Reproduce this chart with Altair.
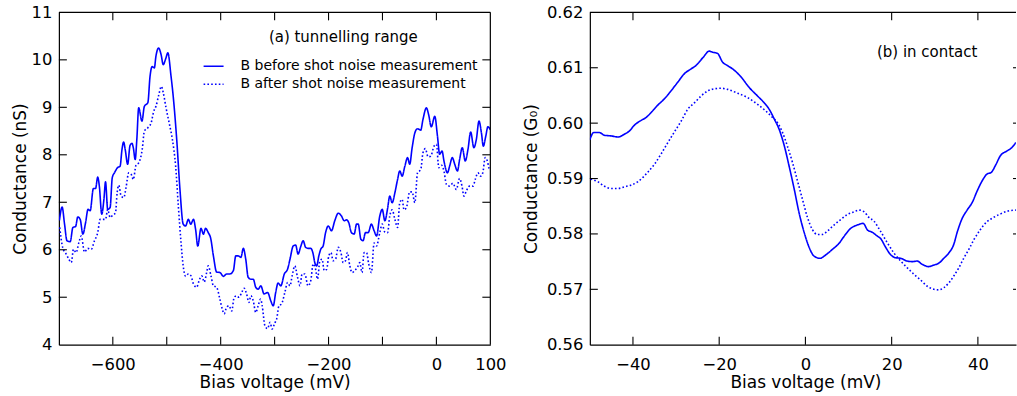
import altair as alt
import pandas as pd

SERIES = ["B before shot noise measurement", "B after shot noise measurement"]
BLUE = "#0000ff"
FONT = "DejaVu Sans"

# ---------------- panel (a): tunnelling range ----------------
a_before_v = [-699, -694, -689.5, -685, -679, -674, -669, -665, -660.5, -655.5, -650.5, -646, -642,
              -636, -632, -628, -625, -620.5, -616.5, -613.5, -609.5, -605, -601, -597, -591, -586.5,
              -583, -580, -577, -572.5, -568, -564.5, -562, -558.5, -555.5, -552, -546, -541.5, -535,
              -531, -527, -523, -520, -515, -510.5, -506.5, -501.5, -498, -492, -488, -481.5, -475.5,
              -469.5, -465, -460, -455.5, -450.5, -446.5, -442.5, -436.5, -432, -428, -423, -418.5,
              -413.5, -407.5, -401.5, -395, -389, -383, -376.5, -372, -367.5, -362.5, -358, -353.5,
              -349, -344, -339.5, -335, -330.5, -325.5, -319.5, -313, -307, -302.5, -298, -293.5,
              -288.5, -282, -276, -271.5, -265.5, -261, -256.5, -251.5, -247, -242.5, -238, -233,
              -228.5, -225.5, -222, -218, -214.5, -210, -205.5, -200.5, -194.5, -188.5, -182, -176,
              -171, -166.5, -162.5, -157.5, -152.5, -148, -145, -140, -136, -131.5, -126.5, -120.5,
              -115.5, -111, -105, -100.5, -95.5, -90.5, -86.5, -82, -77, -72, -68, -63.5, -58.5,
              -53.5, -49.5, -45, -40, -35, -29, -25, -18.5, -14.5, -9.5, -3, 2, 6, 10.5, 14, 20.5,
              24.5, 29.5, 34, 39, 43, 48, 53.5, 58.5, 63.5, 69.5, 74, 79, 83.5, 87, 91.5, 95.5, 100]
a_before_g = [6.62, 6.90, 6.54, 6.19, 6.17, 6.47, 6.49, 6.69, 6.64, 6.33, 6.57, 6.85, 6.82,
              7.29, 7.29, 7.53, 7.34, 6.75, 7.06, 7.43, 6.85, 6.89, 7.52, 7.62, 7.73, 7.76,
              8.11, 8.27, 8.11, 7.80, 8.20, 8.24, 8.15, 7.90, 8.32, 8.99, 8.71, 9.02, 9.10,
              9.65, 9.86, 9.83, 10.08, 10.25, 10.11, 9.90, 10.04, 10.15, 9.65, 9.23, 8.32, 7.27,
              6.54, 6.50, 6.64, 6.54, 6.64, 6.43, 6.08, 6.45, 6.33, 6.45, 6.36, 6.24,
              5.87, 5.53, 5.52, 5.44, 5.49, 5.49, 5.56, 5.87, 5.87, 5.84, 6.03, 5.80,
              5.42, 5.38, 5.38, 5.21, 5.17, 5.24, 5.07, 5.10, 4.92, 4.82, 5.10, 5.30,
              5.24, 5.49, 5.59, 5.80, 6.08, 6.10, 5.91, 6.07, 6.19, 6.05, 6.03, 6.03,
              5.91, 5.73, 5.66, 5.87, 6.01, 6.08, 6.36, 6.50, 6.40, 6.61, 6.77, 6.71,
              6.61, 6.63, 6.57, 6.36, 6.33, 6.54, 6.54, 6.22, 6.19, 6.36, 6.36, 6.54,
              6.40, 6.29, 6.71, 6.85, 6.61, 6.87, 7.13, 6.99, 7.20, 7.48, 7.66, 7.55, 7.76,
              7.94, 7.80, 8.15, 8.46, 8.55, 8.52, 8.74, 8.99, 8.85, 8.59, 8.81, 8.39, 8.01, 8.08, 7.87, 7.62,
              7.76, 7.94, 7.80, 7.66, 7.90, 8.15, 7.87, 8.11, 8.48, 8.15, 8.32, 8.71, 8.46, 8.18, 8.39, 8.59, 8.53]

a_after_v = [-698.5, -693, -686.5, -681.5, -677, -673, -668, -663, -658.5, -652.5, -646.5, -640, -634,
             -628, -623.5, -618.5, -613.5, -609.5, -605, -600, -595, -592, -589, -584.5, -579.5,
             -575.5, -570.5, -566, -562, -557, -552, -545.5, -541.5, -535, -529, -524, -520, -515,
             -510, -506.5, -501.5, -495.5, -489.5, -483.5, -478.5, -473.5, -469.5, -465, -460, -455,
             -450.5, -444.5, -440, -435, -430.5, -426, -423, -418, -413.5, -407.5, -401.5, -397,
             -393.5, -389, -384.5, -379.5, -375, -370.5, -366, -361, -356.5, -352, -347.5, -344,
             -339.5, -335, -330.5, -326, -323, -318, -313, -308.5, -304.5, -300, -296, -292, -287,
             -281, -276, -271.5, -267.5, -262.5, -257.5, -253, -249, -244, -238, -233, -228.5, -224,
             -220.5, -216, -212, -208, -203.5, -199.5, -195.5, -191.5, -187, -182, -177, -173,
             -168.5, -165, -160.5, -156.5, -151.5, -146.5, -142, -138, -134, -129.5, -125.5, -120.5,
             -115.5, -111, -105, -100.5, -96, -90.5, -86.5, -82, -77, -72, -68, -63.5, -60, -55.5,
             -49.5, -45, -40, -35, -29, -25, -20.5, -15.5, -10.5, -4.5, 0, 4.5, 9.5, 14, 18.5,
             24.5, 30.5, 37, 43, 47.5, 51, 55.5, 61.5, 68, 72, 77, 82, 86, 90.5, 94.5, 98.5, 100]
a_after_g = [6.47, 6.05, 5.91, 5.80, 5.73, 6.01, 5.94, 6.15, 6.29, 5.95, 6.03, 6.01, 6.19,
             6.36, 6.64, 6.64, 6.64, 6.85, 6.68, 6.73, 6.78, 7.20, 7.36, 7.13, 7.10,
             7.31, 7.62, 7.59, 7.48, 7.78, 7.83, 8.11, 8.50, 8.57, 8.67, 8.92, 9.02, 9.25,
             9.44, 9.31, 9.00, 8.67, 8.32, 7.76, 6.92, 6.15, 5.66, 5.44, 5.49, 5.45,
             5.28, 5.21, 5.35, 5.45, 5.32, 5.52, 5.66, 5.45, 5.24, 5.21, 4.96, 4.75,
             4.65, 4.79, 4.82, 4.71, 5.00, 5.03, 5.00, 5.10, 5.19, 5.07, 4.89, 5.03,
             4.92, 4.68, 4.82, 4.96, 4.82, 4.40, 4.34, 4.47, 4.33, 4.45, 4.55, 4.82, 4.86,
             5.10, 5.31, 5.24, 5.45, 5.66, 5.42, 5.24, 5.49, 5.49, 5.24, 5.35, 5.70, 5.59,
             5.38, 5.77, 5.80, 5.56, 5.59, 5.87, 5.94, 5.77, 5.80, 6.05, 5.94, 5.73,
             5.77, 5.94, 5.66, 5.52, 5.56, 5.63, 5.73, 5.52, 5.94, 5.94, 5.70, 5.52,
             6.14, 6.08, 6.36, 6.54, 6.38, 6.36, 6.71, 6.84, 6.64, 6.47, 6.99, 7.06, 6.84, 6.89,
             7.22, 7.22, 6.99, 7.62, 7.69, 8.04, 8.13, 7.96, 7.97, 8.18, 8.22, 7.73, 7.78, 7.66, 7.38,
             7.34, 7.40, 7.27, 7.50, 7.34, 7.13, 7.24, 7.34, 7.34, 7.48, 7.62, 7.55, 7.62, 7.94, 7.87, 7.69, 7.70]

# ---------------- panel (b): in contact ----------------
b_before_v = [-50, -49.1, -47.8, -46.6, -45.1, -43.5, -42, -40.8, -39.7, -38.1, -37, -35.8, -34.3,
              -32.7, -31.2, -29.6, -28.1, -26.5, -25.4, -23.8, -22.3, -21.5, -20.4, -19.2, -18.1,
              -16.9, -15, -13, -11.1, -9.6, -8.4, -7.2, -6.1, -4.9, -3.8, -2.6, -1.5, -0.3, 0.85,
              2.0, 3.4, 4.7, 6.25, 7.8, 9.0, 10.5, 12.0, 13.4, 14.4, 15.5, 16.7, 17.4, 18.6, 19.7,
              20.9, 22.1, 23.6, 24.8, 25.9, 27.1, 28.6, 29.8, 30.9, 32.1, 33.3, 34.4, 35.2, 36.3,
              37.5, 38.7, 39.8, 41.0, 42.1, 43.1, 44.1, 45.2, 46.8, 47.9, 48.8]
b_before_g = [0.5970, 0.5983, 0.5983, 0.5978, 0.5977, 0.5975, 0.5980, 0.5986, 0.5996, 0.6005, 0.6010, 0.6019, 0.6032,
              0.6044, 0.6058, 0.6074, 0.6089, 0.6098, 0.6104, 0.6118, 0.6130, 0.6128, 0.6126, 0.6110, 0.6104,
              0.6098, 0.6084, 0.6064, 0.6049, 0.6037, 0.6025, 0.6007, 0.5989, 0.5959, 0.5923, 0.5881, 0.5839, 0.5803, 0.5776,
              0.5760, 0.5756, 0.5762, 0.5772, 0.5783, 0.5796, 0.5810, 0.5816, 0.5819, 0.5807, 0.5803, 0.5796, 0.5792, 0.5776, 0.5763,
              0.5757, 0.5756, 0.5751, 0.5750, 0.5751, 0.5745, 0.5741, 0.5744, 0.5747, 0.5756, 0.5766, 0.5781, 0.5803, 0.5827,
              0.5843, 0.5857, 0.5877, 0.5896, 0.5908, 0.5911, 0.5924, 0.5941, 0.5950, 0.5956, 0.5965]

b_after_v = [-49.8, -48.1, -46.6, -45.1, -43.5, -42, -40.5, -38.9, -37.7, -36.6, -35, -33.5, -31.9,
             -30.4, -28.8, -27.3, -25.7, -24.2, -22.7, -21.1, -19.6, -18.1, -15.7, -13.4, -11.1,
             -9.2, -7.6, -6.5, -5.3, -4.2, -3.0, -1.85, -0.7, 0.46, 1.6, 2.8, 3.9, 5.1, 6.6, 8.2,
             9.7, 11.3, 12.4, 13.6, 14.7, 15.9, 17.4, 19.0, 20.5, 22.1, 23.6, 25.2, 26.7, 28.2,
             29.8, 30.9, 32.1, 33.3, 34.4, 35.6, 36.7, 37.9, 39.1, 40.6, 42.1, 43.7, 45.2, 46.8, 48.8]
b_after_g = [0.5899, 0.5894, 0.5886, 0.5882, 0.5882, 0.5885, 0.5888, 0.5894, 0.5902, 0.5911, 0.5926, 0.5944, 0.5965,
             0.5984, 0.6004, 0.6025, 0.6037, 0.6049, 0.6058, 0.6062, 0.6063, 0.6061, 0.6054, 0.6046, 0.6034,
             0.6022, 0.6010, 0.6001, 0.5983, 0.5959, 0.5929, 0.5896, 0.5863, 0.5830, 0.5808, 0.5799, 0.5799, 0.5805, 0.5816, 0.5826,
             0.5835, 0.5840, 0.5843, 0.5840, 0.5830, 0.5823, 0.5805, 0.5784, 0.5766, 0.5751, 0.5739, 0.5727, 0.5717, 0.5706,
             0.5700, 0.5699, 0.5703, 0.5712, 0.5724, 0.5739, 0.5756, 0.5772, 0.5790, 0.5808, 0.5822, 0.5830, 0.5836, 0.5841, 0.5843]

# axes / tick values
A_XDOM = [-700, 100]
A_YDOM = [4, 11]
A_XLABELS = [-600, -400, -200, 0, 100]
A_XTICKS = [-600, -500, -400, -300, -200, -100, 0]
A_YLABELS = [4, 5, 6, 7, 8, 9, 10, 11]
A_YTICKS = [5, 6, 7, 8, 9, 10]

B_XDOM = [-50, 48.84]
B_YDOM = [0.56, 0.62]
B_XLABELS = [-40, -20, 0, 20, 40]
B_XTICKS = [-40, -20, 0, 20, 40]
B_YLABELS = [0.56, 0.57, 0.58, 0.59, 0.60, 0.61, 0.62]
B_YTICKS = [0.57, 0.58, 0.59, 0.60, 0.61]

A_NOTE = ["(a) tunnelling range"]
A_NOTE_V = [-310.6]
A_NOTE_G = [10.485]
B_NOTE = ["(b) in contact"]
B_NOTE_V = [16.6]
B_NOTE_G = [0.61278]

XTITLE = "Bias voltage (mV)"


def lines_df(bv, bg, av, ag):
    d1 = pd.DataFrame({"v": bv, "g": bg, "series": SERIES[0]})
    d2 = pd.DataFrame({"v": av, "g": ag, "series": SERIES[1]})
    return pd.concat([d1, d2], ignore_index=True)


ONE = pd.DataFrame({"k": [0]})
TICK = 8  # inward tick length, pixels


def frame_rule(**enc):
    return alt.Chart(ONE).mark_rule(color="black", strokeWidth=1.1).encode(**enc)


def inward_ticks(xdom, ydom, W, H, xticks, yticks, right_len):
    """Short inward tick marks on all four sides (frame decoration, matplotlib style)."""
    out = []
    for t in xticks:
        px = (t - xdom[0]) / (xdom[1] - xdom[0]) * W
        out.append(frame_rule(x=alt.value(px), y=alt.value(H), y2=alt.value(H - TICK)))
        out.append(frame_rule(x=alt.value(px), y=alt.value(0), y2=alt.value(TICK)))
    for t in yticks:
        py = H - (t - ydom[0]) / (ydom[1] - ydom[0]) * H
        out.append(frame_rule(y=alt.value(py), x=alt.value(0), x2=alt.value(TICK)))
        out.append(frame_rule(y=alt.value(py), x=alt.value(W), x2=alt.value(W - right_len)))
    return out


def panel(df, note, xdom, ydom, W, H, xlabels, xticks, ylabels, yticks, yfmt, ytitle,
          ytitle_x, xtitle_x, leg_x, leg_y, right_spine, right_tick):
    xs = alt.Scale(domain=xdom, nice=False, zero=False)
    ys = alt.Scale(domain=ydom, nice=False, zero=False)

    x_main = alt.Axis(orient="bottom", values=xlabels, ticks=False, tickSize=0, domain=True,
                      domainColor="black", domainWidth=1.2, labelFont=FONT, labelFontSize=16.4,
                      labelColor="black", labelPadding=11.6, labelFlush=False, labelOverlap=False,
                      labelExpr="replace(datum.label, '-', '\u2212')", grid=False,
                      titleFont=FONT, titleFontSize=17, titleFontWeight="normal", titleColor="black",
                      titleBaseline="alphabetic", titleX=xtitle_x, titleY=43.3)
    y_main = alt.Axis(orient="left", values=ylabels, ticks=False, tickSize=0, domain=True,
                      domainColor="black", domainWidth=1.2, labelFont=FONT, labelFontSize=16.4,
                      labelColor="black", labelPadding=7, labelFlush=False, labelOverlap=False,
                      format=yfmt, grid=False, titleFont=FONT, titleFontSize=17,
                      titleFontWeight="normal", titleColor="black", titleBaseline="alphabetic",
                      titleX=ytitle_x)

    def X(field):
        return alt.X(field, scale=xs, axis=x_main, title=XTITLE)

    def Y(field):
        return alt.Y(field, scale=ys, axis=y_main, title=ytitle)

    lines = alt.Chart(df).mark_line(color=BLUE, strokeWidth=1.6, clip=True, interpolate="monotone").encode(
        x=X("v:Q"),
        y=Y("g:Q"),
        strokeDash=alt.StrokeDash(
            "series:N",
            scale=alt.Scale(domain=SERIES, range=[[1, 0], [1.6, 2.2]]),
            sort=SERIES,
            legend=alt.Legend(title=None, orient="none", legendX=leg_x, legendY=leg_y,
                              direction="vertical", symbolType="stroke", symbolSize=400,
                              symbolStrokeColor=BLUE, symbolStrokeWidth=1.6, labelFont=FONT,
                              labelFontSize=14, labelColor="black", labelOffset=16,
                              labelLimit=400, rowPadding=0, padding=0),
        ),
    )

    notes = alt.Chart(note).mark_text(align="left", baseline="middle", font=FONT, fontSize=15,
                                      color="black").encode(
        x=X("v:Q"), y=Y("g:Q"), text="label:N")

    layers = [lines, notes]
    layers += inward_ticks(xdom, ydom, W, H, xticks, yticks, right_tick)
    layers.append(alt.Chart(ONE).mark_rule(color="black", strokeWidth=1.2).encode(
        x=alt.value(0), x2=alt.value(W), y=alt.value(0)))
    if right_spine:
        layers.append(alt.Chart(ONE).mark_rule(color="black", strokeWidth=1.2).encode(
            x=alt.value(W), y=alt.value(0), y2=alt.value(H)))

    return alt.layer(*layers).properties(width=W, height=H)


df_a = lines_df(a_before_v, a_before_g, a_after_v, a_after_g)
df_b = lines_df(b_before_v, b_before_g, b_after_v, b_after_g)
note_a = pd.DataFrame({"v": A_NOTE_V, "g": A_NOTE_G, "label": A_NOTE})
note_b = pd.DataFrame({"v": B_NOTE_V, "g": B_NOTE_G, "label": B_NOTE})

W_A, H = 432.3, 333
W_B = 427

left = panel(df_a, note_a, A_XDOM, A_YDOM, W_A, H, A_XLABELS, A_XTICKS, A_YLABELS, A_YTICKS, "d",
             "Conductance (nS)", -33.7, W_A / 2, 144, 43, True, TICK)
right = panel(df_b, note_b, B_XDOM, B_YDOM, W_B, H, B_XLABELS, B_XTICKS, B_YLABELS, B_YTICKS, ".2f",
              "Conductance (G\u2080)", -53.3, 216, 16, 284, False, 3)

chart = alt.hconcat(left, right, spacing=99, bounds="flush").properties(
    padding={"left": 11, "top": 4, "right": 0, "bottom": 0},
    background="white",
).configure_view(stroke=None)

chart.save("out.html", embed_options={"renderer": "svg", "actions": False})
